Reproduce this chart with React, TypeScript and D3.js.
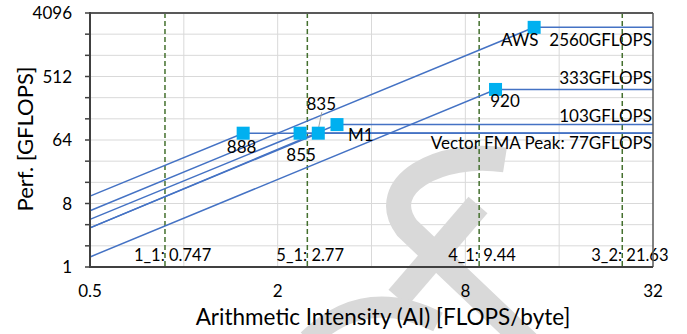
import * as d3 from "d3";

// roofline per processor: line from AI=0.5 to the ridge, then flat to AI=32
const procs = ["888", "855", "835", "M1", "920", "AWS"];
const startPerf = [10.2, 4.75, 3.6, 3.6, 1.39, 6.3];
const ridgeAI = [1.55, 2.36, 2.7, 3.1, 10.0, 13.3];
const peakPerf = [80, 80, 80, 106, 335, 2560];

const peakLabels = ["2560GFLOPS", "333GFLOPS", "103GFLOPS", "Vector FMA Peak: 77GFLOPS"];
const peakLabelAt = [2560, 335, 106, 80];

const kernelAI = [0.87, 2.49, 8.86, 25.5];
const kernelLabels = ["1_1: 0.747", "5_1: 2.77", "4_1: 9.44", "3_2: 21.63"];

const xTicks = [0.5, 2, 8, 32];
const yTicks = [1, 8, 64, 512, 4096];

const W = 687;
const H = 334;
const font = "Lato, 'Open Sans', sans-serif";
const blue = "#4472C4";

// label offsets (px) relative to marker / roof line
const procLabelOff: [number, number, string][] = [
  [-1.5, 20, "middle"],
  [1, 28, "middle"],
  [3, -23, "middle"],
  [11, 16, "start"],
  [9.5, 18, "middle"],
  [-14.5, 19, "middle"],
];
const peakLabelDy = [19, -5, -2.5, 15.5];

export default function App() {
  const x = d3.scaleLog().base(2).domain([0.5, 32]).range([90, 653]);
  const y = d3.scaleLog().base(2).domain([1, 4096]).range([267, 13]);
  const [x0, x1] = x.range();
  const [yb, yt] = y.range();

  const gridX = d3.range(0, 6).map((i) => 2 ** i * 0.5);
  const gridY = d3.range(0, 13).map((i) => 2 ** i);

  const line = d3
    .line<[number, number]>()
    .x((d) => x(d[0]))
    .y((d) => y(d[1]));

  const roofs = procs.map((_, i) =>
    line([
      [0.5, startPerf[i]],
      [ridgeAI[i], peakPerf[i]],
      [32, peakPerf[i]],
    ])
  );

  return (
    <svg
      width={W}
      height={H}
      style={{ position: "absolute", left: 0, top: 0, background: "#fff" }}
      fontFamily={font}
    >
      {/* grid */}
      <g stroke="#D9D9D9" strokeWidth={1}>
        {gridY.map((v) => (
          <line key={"gy" + v} x1={x0} x2={x1} y1={y(v)} y2={y(v)} />
        ))}
        {gridX.map((v) => (
          <line key={"gx" + v} x1={x(v)} x2={x(v)} y1={yb} y2={yt} />
        ))}
      </g>

      {/* watermark */}
      <g fill="none" stroke="#D9D9D9" strokeWidth={25}>
        <path d="M505,160 C440,150 375,185 407,228 L530,345" />
        <path d="M478,205 L398,298" />
        <path d="M308,340 Q365,285 438,322" strokeWidth={21} />
      </g>

      {/* kernel AI markers */}
      <g stroke="#44702E" strokeWidth={1.5} strokeDasharray="5,3">
        {kernelAI.map((v) => (
          <line key={"k" + v} x1={x(v)} x2={x(v)} y1={yt} y2={yb} />
        ))}
      </g>
      <g fontSize={16.5} fill="#000">
        {kernelAI.map((v, i) => (
          <text key={"kl" + i} x={x(v) - 31} y={261}>
            {kernelLabels[i]}
          </text>
        ))}
      </g>

      {/* roofs */}
      <g fill="none" stroke={blue} strokeWidth={1.5}>
        {roofs.map((d, i) => (
          <path key={"r" + i} d={d || ""} />
        ))}
      </g>

      {/* leader lines */}
      <g stroke="#A6A6A6" strokeWidth={1}>
        <line x1={x(ridgeAI[2]) + 3.5} y1={y(peakPerf[2]) - 21} x2={x(ridgeAI[2])} y2={y(peakPerf[2]) - 4} />
        <line x1={x(ridgeAI[1])} y1={y(peakPerf[1]) + 1} x2={x(ridgeAI[1]) + 2} y2={y(peakPerf[1]) + 7} />
      </g>

      {/* markers */}
      <g fill="#00B0F0">
        {procs.map((p, i) => (
          <rect
            key={"m" + p}
            x={x(ridgeAI[i]) - 6.5}
            y={y(peakPerf[i]) - 6.5}
            width={13}
            height={13}
          />
        ))}
      </g>
      <g fontSize={17} fill="#000">
        {procs.map((p, i) => (
          <text
            key={"ml" + p}
            x={x(ridgeAI[i]) + procLabelOff[i][0]}
            y={y(peakPerf[i]) + procLabelOff[i][1]}
            textAnchor={procLabelOff[i][2]}
          >
            {p}
          </text>
        ))}
        {peakLabels.map((t, i) => (
          <text key={"pl" + i} x={652} y={y(peakLabelAt[i]) + peakLabelDy[i]} textAnchor="end">
            {t}
          </text>
        ))}
      </g>

      {/* frame and axes */}
      <line x1={x0} x2={x1} y1={yt} y2={yt} stroke="#595959" strokeWidth={2} />
      <line x1={x1} x2={x1} y1={yt} y2={yb} stroke="#595959" strokeWidth={1.5} />
      <line x1={x0} x2={x1} y1={yb} y2={yb} stroke="#404040" strokeWidth={2} />
      <line x1={x0} x2={x0} y1={yt - 1} y2={yb + 1} stroke="#404040" strokeWidth={2} />
      <g stroke="#404040" strokeWidth={1.5}>
        {gridY.map((v) => (
          <line key={"t" + v} x1={x0 - 5} x2={x0} y1={y(v)} y2={y(v)} />
        ))}
      </g>

      {/* tick labels */}
      <g fontSize={17} fill="#000">
        {yTicks.map((v) => (
          <text key={"yl" + v} x={72} y={y(v) + 6} textAnchor="end">
            {v}
          </text>
        ))}
        {xTicks.map((v) => (
          <text key={"xl" + v} x={x(v)} y={297} textAnchor="middle">
            {v}
          </text>
        ))}
      </g>

      {/* axis titles */}
      <text x={383} y={325} fontSize={22.5} textAnchor="middle">
        Arithmetic Intensity (AI) [FLOPS/byte]
      </text>
      <text
        transform={`translate(33,139) rotate(-90)`}
        fontSize={22}
        textAnchor="middle"
      >
        Perf. [GFLOPS]
      </text>
    </svg>
  );
}
